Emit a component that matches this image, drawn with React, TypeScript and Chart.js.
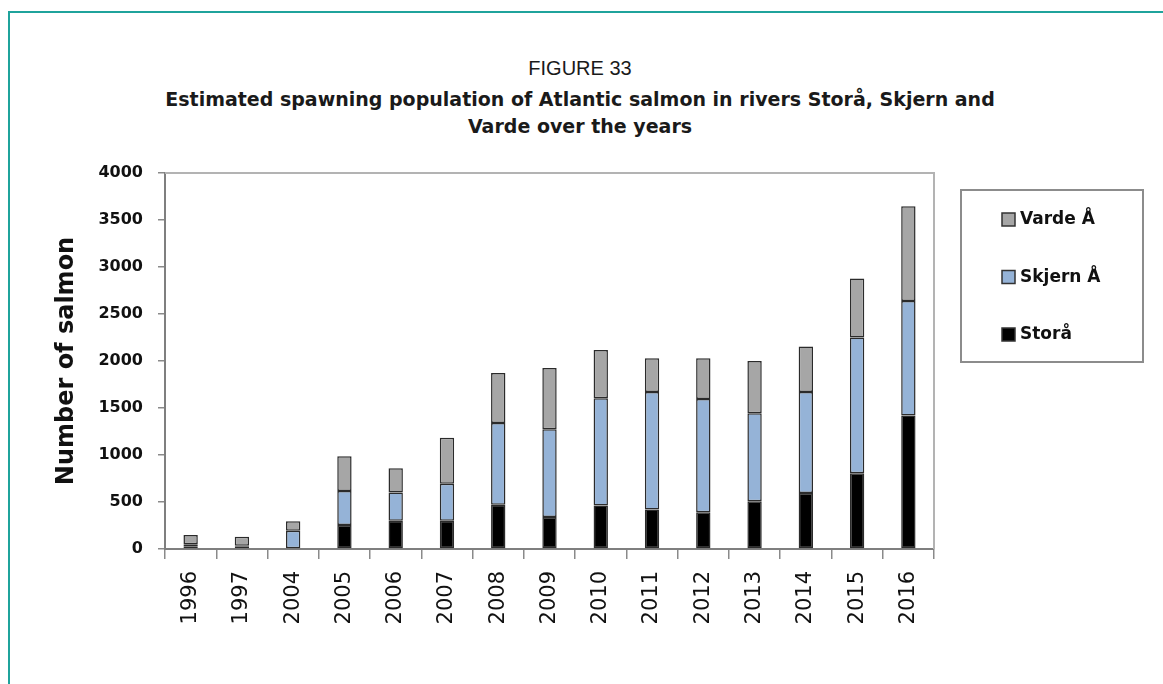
import React, { useEffect, useRef } from "react";
import { Chart, registerables } from "chart.js";

Chart.register(...registerables);

const years = ["1996", "1997", "2004", "2005", "2006", "2007", "2008", "2009", "2010", "2011", "2012", "2013", "2014", "2015", "2016"];
const storaValues = [30, 30, 0, 255, 300, 300, 472, 340, 462, 420, 390, 508, 595, 805, 1420];
const skjernValues = [20, 5, 195, 363, 300, 395, 868, 935, 1143, 1250, 1205, 937, 1075, 1445, 1218];
const vardeValues = [100, 95, 100, 370, 258, 488, 533, 650, 513, 360, 435, 555, 483, 627, 1008];
const seriesNames = ["Storå", "Skjern Å", "Varde Å"];
const seriesColors = ["#000000", "#95b3d7", "#a6a6a6"];
const yMin = 0;
const yMax = 4000;
const yStep = 500;
const figureLabel = "FIGURE 33";
const titleLines = [
  "Estimated spawning population of Atlantic salmon in rivers Storå, Skjern and",
  "Varde over the years",
];
const yAxisTitle = "Number of salmon";

const frameAndLegend = {
  id: "frameAndLegend",
  afterDraw(chart: any) {
    const { ctx, chartArea } = chart;
    ctx.save();
    ctx.strokeStyle = "#b3b3b3";
    ctx.lineWidth = 2;
    ctx.beginPath();
    ctx.moveTo(chartArea.left, chartArea.top);
    ctx.lineTo(chartArea.right, chartArea.top);
    ctx.lineTo(chartArea.right, chartArea.bottom);
    ctx.stroke();
    ctx.strokeStyle = "#8c8c8c";
    ctx.lineWidth = 2;
    ctx.strokeRect(961, 190, 182, 172);
    const ds = chart.data.datasets.slice().reverse();
    ds.forEach((d: any, i: number) => {
      const y = 219 + i * 57.5;
      ctx.fillStyle = d.backgroundColor;
      ctx.fillRect(1002, y - 6, 13, 13);
      ctx.strokeStyle = "#333333";
      ctx.lineWidth = 1.5;
      ctx.strokeRect(1002, y - 6, 13, 13);
      ctx.fillStyle = "#111111";
      ctx.font = 'bold 17px "DejaVu Sans"';
      ctx.textBaseline = "middle";
      ctx.textAlign = "left";
      ctx.fillText(d.label, 1020, y + 1);
    });
    ctx.restore();
  },
};

export default function App() {
  const canvasRef = useRef<HTMLCanvasElement | null>(null);

  useEffect(() => {
    if (!canvasRef.current) return;
    const series = [storaValues, skjernValues, vardeValues];
    const chart = new Chart(canvasRef.current, {
      type: "bar",
      data: {
        labels: years,
        datasets: series.map((vals, i) => ({
          label: seriesNames[i],
          data: vals,
          backgroundColor: seriesColors[i],
          borderColor: "#2b2b2b",
          borderWidth: 1.5,
          borderSkipped: false,
          categoryPercentage: 1,
          barPercentage: 0.28,
        })),
      },
      options: {
        animation: false,
        responsive: false,
        devicePixelRatio: 1,
        layout: { padding: { left: 52, top: 173, right: 229, bottom: 0 } },
        plugins: {
          legend: { display: false },
          tooltip: { enabled: false },
          title: { display: false },
        },
        scales: {
          x: {
            stacked: true,
            afterFit(scale: any) {
              scale.height = 135;
            },
            grid: {
              offset: true,
              drawOnChartArea: false,
              drawTicks: true,
              tickLength: 10,
              color: "#8a8a8a",
              lineWidth: 1.5,
            },
            border: { display: true, color: "#7f7f7f", width: 2 },
            ticks: {
              minRotation: 90,
              maxRotation: 90,
              padding: 12,
              color: "#111111",
              font: { family: '"DejaVu Sans"', size: 21 },
              autoSkip: false,
            },
          },
          y: {
            stacked: true,
            min: yMin,
            max: yMax,
            afterFit(scale: any) {
              scale.width = 113;
            },
            grid: {
              drawOnChartArea: false,
              drawTicks: true,
              tickLength: 7,
              color: "#8a8a8a",
              lineWidth: 1.5,
            },
            border: { display: true, color: "#7f7f7f", width: 2 },
            ticks: {
              stepSize: yStep,
              padding: 15,
              color: "#111111",
              font: { family: '"DejaVu Sans"', size: 16, weight: "bold" },
              callback: (v: any) => String(v),
            },
            title: {
              display: true,
              text: yAxisTitle,
              color: "#111111",
              font: { family: '"DejaVu Sans"', size: 24, weight: "bold" },
              padding: { top: 0, bottom: 0 },
            },
          },
        },
      },
      plugins: [frameAndLegend],
    });
    return () => chart.destroy();
  }, []);

  return (
    <div
      style={{
        position: "absolute",
        left: 0,
        top: 0,
        width: 1163,
        height: 684,
        overflow: "hidden",
        background: "#ffffff",
      }}
    >
      <div
        style={{
          position: "absolute",
          left: 8,
          top: 11,
          width: 1300,
          height: 900,
          borderTop: "2px solid #1fa39c",
          borderLeft: "2px solid #1fa39c",
        }}
      />
      <div
        style={{
          position: "absolute",
          left: 0,
          top: 56,
          width: 1160,
          textAlign: "center",
          fontFamily: '"Liberation Sans", Arial, sans-serif',
          fontSize: 20,
          lineHeight: "24px",
          color: "#1a1a1a",
        }}
      >
        {figureLabel}
      </div>
      <div
        style={{
          position: "absolute",
          left: 0,
          top: 86,
          width: 1160,
          textAlign: "center",
          fontFamily: '"DejaVu Sans", sans-serif',
          fontWeight: "bold",
          fontSize: 19,
          lineHeight: "27px",
          color: "#1a1a1a",
        }}
      >
        {titleLines.map((t, i) => (
          <div key={i}>{t}</div>
        ))}
      </div>
      <canvas
        ref={canvasRef}
        width={1163}
        height={684}
        style={{ position: "absolute", left: 0, top: 0, width: 1163, height: 684 }}
      />
    </div>
  );
}
